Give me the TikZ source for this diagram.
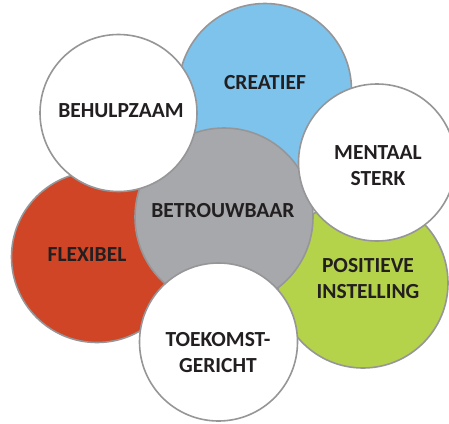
\documentclass[tikz,border=0pt]{standalone}
\usepackage{fontspec}
\setmainfont{Carlito}
\usepackage{tikz}
\usetikzlibrary{calc}

\definecolor{ringgray}{RGB}{150,150,152}
\definecolor{txtdark}{RGB}{35,31,32}
\definecolor{cblue}{RGB}{126,195,236}
\definecolor{cred}{RGB}{208,69,38}
\definecolor{cgreen}{RGB}{180,210,74}
\definecolor{cgray}{RGB}{166,168,171}

\tikzset{
	bubble/.style={circle, draw=ringgray, line width=1.6pt, inner sep=0pt, minimum size=#1},
	word/.style={text=txtdark, font=\bfseries\fontsize{21.5}{26}\selectfont, align=center, inner sep=0pt}
}

\begin{document}
\begin{tikzpicture}[x=1pt,y=-1pt]
	\useasboundingbox (0,0) rectangle (449,423);
	% bubbles, back to front
	\node[bubble=171pt, fill=cred] (flex) at (97,257) {};
	\node[bubble=170pt, fill=cgreen] (posi) at (363,283) {};
	\node[bubble=173pt, fill=cblue] (crea) at (265,90) {};
	\node[bubble=178pt, fill=cgray] (betr) at (224,217) {};
	\node[bubble=157pt, fill=white] (behu) at (118.5,113) {};
	\node[bubble=157pt, fill=white] (ment) at (377,162.5) {};
	\node[bubble=158pt, fill=white] (toek) at (218.5,342) {};
	% words
	\node[word] (tcrea) at (265,83) {CREATIEF};
	\node[word] (tbehu) at (121,111) {BEHULPZAAM};
	\node[word] (tment) at (378,166) {MENTAAL\\STERK};
	\node[word] (tbetr) at (223,211) {BETROUWBAAR};
	\node[word] (tflex) at (87,255) {FLEXIBEL};
	\node[word] (tposi) at (368,279) {POSITIEVE\\INSTELLING};
	\node[word] (ttoek) at (218,353) {TOEKOMST-\\GERICHT};
\end{tikzpicture}
\end{document}
